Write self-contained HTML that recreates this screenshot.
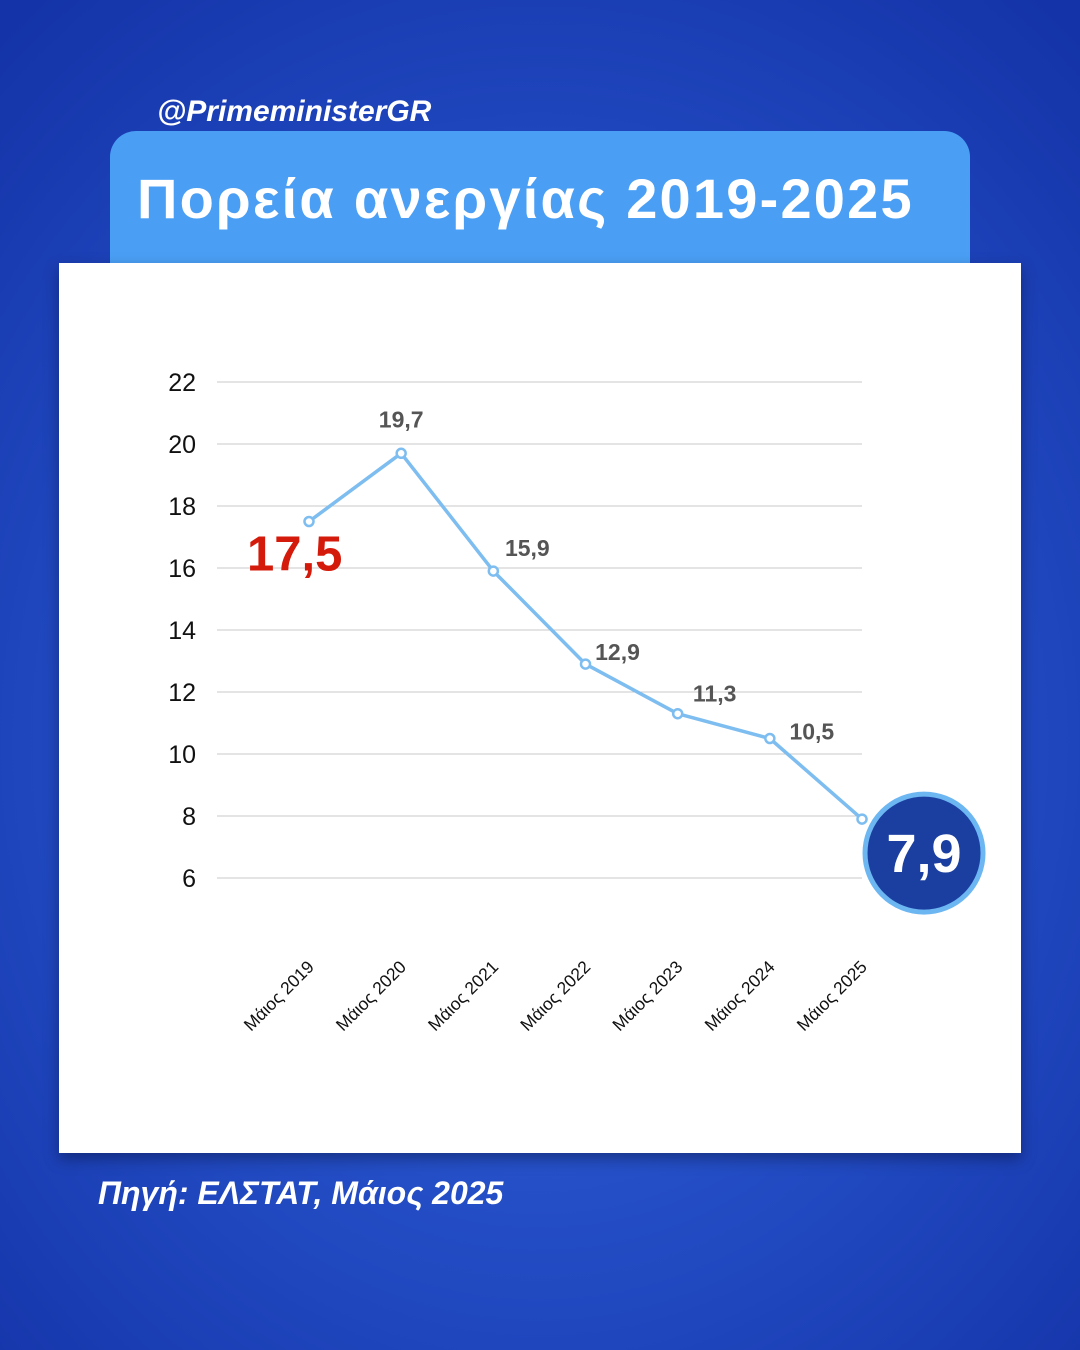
<!DOCTYPE html>
<html><head><meta charset="utf-8">
<style>
html,body{margin:0;padding:0}
body{width:1080px;height:1350px;position:relative;overflow:hidden;font-family:"Liberation Sans","DejaVu Sans",sans-serif;
background:radial-gradient(ellipse 75% 70% at 50% 55%,#2f62d6 0%,#2550c8 45%,#1433a8 100%);}
.handle{position:absolute;left:157px;top:95px;color:#fff;font-style:italic;font-weight:bold;font-size:30px}
.tab{position:absolute;left:110px;top:131px;width:860px;height:140px;background:#4a9ff5;border-radius:26px 26px 0 0}
.title{position:absolute;left:137px;top:166px;color:#fff;font-weight:bold;font-size:56px;letter-spacing:2.2px}
.card{position:absolute;left:59px;top:263px;width:962px;height:890px;background:#fff;box-shadow:0 6px 14px rgba(0,0,20,.35)}
.src{position:absolute;left:98px;top:1175px;color:#fff;font-style:italic;font-weight:bold;font-size:32px}
svg{position:absolute;left:0;top:0}
</style></head><body>
<div class="handle">@PrimeministerGR</div>
<div class="tab"></div>
<div class="title">Πορεία ανεργίας 2019-2025</div>
<div class="card"></div>
<svg id="chart" width="1080" height="1350"></svg>
<div class="src">Πηγή: ΕΛΣΤΑΤ, Μάιος 2025</div>
<script>
const categories=["Μάιος 2019","Μάιος 2020","Μάιος 2021","Μάιος 2022","Μάιος 2023","Μάιος 2024","Μάιος 2025"];
const values=[17.5,19.7,15.9,12.9,11.3,10.5,7.9];
const valueLabels=["17,5","19,7","15,9","12,9","11,3","10,5","7,9"];
const yTicks=[6,8,10,12,14,16,18,20,22];
const NS="http://www.w3.org/2000/svg";
const svg=document.getElementById('chart');
const x=i=>309+i*92.17;
const y=v=>878-(v-6)*31;
function mk(t,a,p){const e=document.createElementNS(NS,t);for(const k in a)e.setAttribute(k,a[k]);(p||svg).appendChild(e);return e;}
yTicks.forEach(t=>{
 const g=mk('line',{x1:217,x2:862,y1:y(t),y2:y(t),stroke:'#c8c8c8','stroke-width':1});
 
 
 const l=mk('text',{x:196,y:y(t)+9,'text-anchor':'end','font-size':25,fill:'#111'});
 l.textContent=t;
 
 
});
categories.forEach((c,i)=>{
 const l=mk('text',{x:x(i)+6,y:968,'text-anchor':'end','font-size':17.5,fill:'#111',transform:`rotate(-45 ${x(i)+6} 968)`});
 l.textContent=c;
 
 
});
const line=mk('polyline',{points:values.map((v,i)=>x(i)+','+y(v)).join(' '),fill:'none',stroke:'#7dbdf0','stroke-width':3.5,'stroke-linejoin':'round'});


values.forEach((v,i)=>{
 const p=mk('circle',{cx:x(i),cy:y(v),r:4.5,fill:'#fff',stroke:'#7dbdf0','stroke-width':2.5});
 
 
});
const last=values.length-1;
const lblDx=[0,0,34,32,37,42,0];
const lblDy=[0,-26,-15,-4,-12,1,0];
values.forEach((v,i)=>{
 if(i===0){
  const t=mk('text',{x:x(i)-62,y:y(v)+49,'font-size':49,'font-weight':'bold',fill:'#d41a0a'});
  t.textContent=valueLabels[i];
  
  
 } else if(i===last){
  const c=mk('circle',{cx:x(i)+62,cy:y(v)+34,r:59,fill:'#1a3fa0',stroke:'#6cb6f2','stroke-width':5});
  
  
  const t=mk('text',{x:x(i)+62,y:y(v)+53,'text-anchor':'middle','font-size':54,'font-weight':'bold',fill:'#fff'});
  t.textContent=valueLabels[i];
  
  
 } else {
  const t=mk('text',{x:x(i)+lblDx[i],y:y(v)+lblDy[i],'text-anchor':'middle','font-size':23,'font-weight':'bold',fill:'#555'});
  t.textContent=valueLabels[i];
  
  
 }
});
</script>
</body></html>
